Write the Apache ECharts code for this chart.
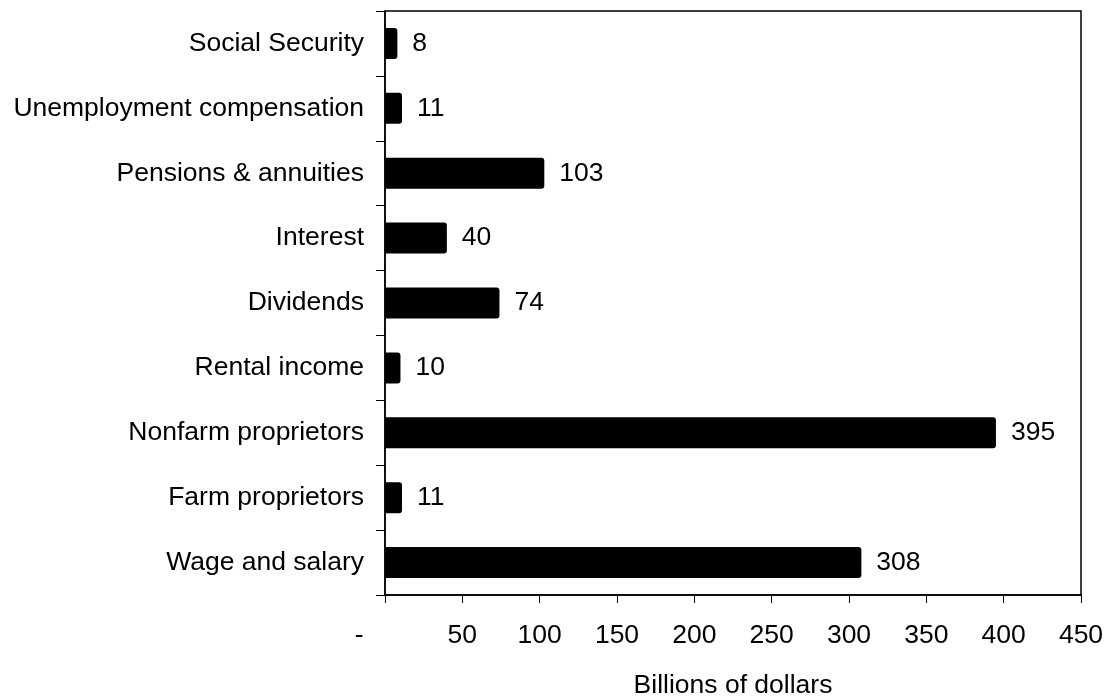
<!DOCTYPE html>
<html>
<head>
<meta charset="utf-8">
<script src="https://cdn.jsdelivr.net/npm/echarts@6/dist/echarts.min.js"></script>
<style>
    html, body { margin: 0; padding: 0; background: #fff; }
    #chart { width: 1106px; height: 696px; }
</style>
</head>
<body>
<div id="chart"></div>
<script>
// 数据
const categories = [
    'Wage and salary',
    'Farm proprietors',
    'Nonfarm proprietors',
    'Rental income',
    'Dividends',
    'Interest',
    'Pensions & annuities',
    'Unemployment compensation',
    'Social Security'
];
const values = [308, 11, 395, 10, 74, 40, 103, 11, 8];
const xTicks = [0, 50, 100, 150, 200, 250, 300, 350, 400, 450];
const xLabels = ['-', '50', '100', '150', '200', '250', '300', '350', '400', '450'];

let chart;

function initChart() {
    chart = echarts.init(document.getElementById('chart'));

    const font = 'Liberation Sans, Arial, sans-serif';

    const option = {
        animation: false,
        textStyle: { fontFamily: font },
        grid: {
            left: 385,
            right: 25,
            top: 11,
            bottom: 101,
            outerBoundsMode: 'none',
            show: true,
            borderColor: '#000',
            borderWidth: 1.5
        },
        xAxis: {
            type: 'value',
            min: xTicks[0],
            max: xTicks[xTicks.length - 1],
            interval: 50,
            name: 'Billions of dollars',
            nameLocation: 'middle',
            nameGap: 77,
            nameTextStyle: { color: '#000', fontSize: 26.5 },
            splitLine: { show: false },
            axisLine: { show: true, lineStyle: { color: '#000', width: 1.5 } },
            axisTick: { show: true, length: 8, lineStyle: { color: '#000', width: 1 } },
            axisLabel: {
                color: '#000',
                fontSize: 26.5,
                margin: 27,
                formatter: v => {
                    const s = xLabels[xTicks.indexOf(v)];
                    // 0 显示为 "-"，并向左偏移
                    return v === 0 ? s + '       ' : s;
                }
            }
        },
        yAxis: {
            type: 'category',
            data: categories,
            axisLine: { show: true, lineStyle: { color: '#000', width: 1.5 } },
            axisTick: { show: true, length: 9, lineStyle: { color: '#000', width: 1 } },
            axisLabel: { color: '#000', fontSize: 26.5, margin: 21 }
        },
        series: [{
            type: 'bar',
            data: values,
            barWidth: 31,
            itemStyle: { color: '#000', borderRadius: [0, 3, 3, 0] },
            label: {
                show: true,
                position: 'right',
                distance: 15,
                color: '#000',
                fontSize: 26.5
            }
        }]
    };

    chart.setOption(option);
}

document.addEventListener('DOMContentLoaded', initChart);
</script>
</body>
</html>
